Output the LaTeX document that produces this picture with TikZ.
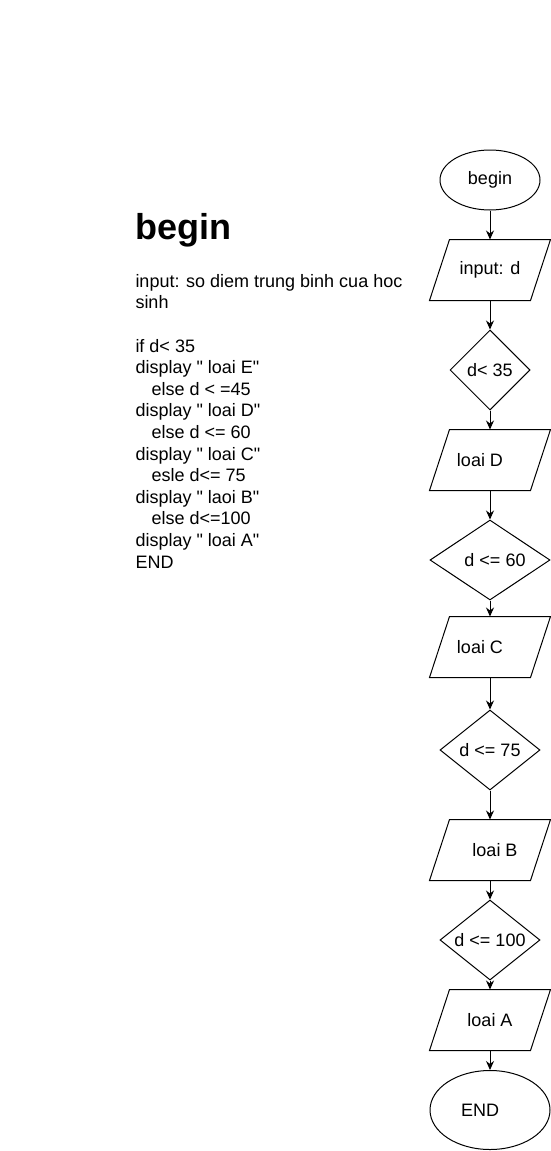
\documentclass[tikz,border=0pt]{standalone}
\usepackage{fontspec}
\setmainfont{Liberation Sans}[Ligatures=TeXOff]
\usetikzlibrary{shapes.geometric,arrows.meta}
\newcommand{\lbl}[2][0pt]{\makebox[0pt]{\hspace*{#1}\hspace*{#1}#2}}

\begin{document}
\begin{tikzpicture}[x=1pt,y=-1pt,line width=1pt,
    every node/.style={inner sep=0pt,font=\fontsize{18}{21.6}\selectfont},
    term/.style={draw,ellipse,minimum width=100pt,minimum height=60pt},
    io/.style={minimum width=120pt,minimum height=60pt,
        append after command={\pgfextra{\draw ([xshift=20pt]\tikzlastnode.north west)
            -- (\tikzlastnode.north east) -- ([xshift=-20pt]\tikzlastnode.south east)
            -- (\tikzlastnode.south west) -- cycle;}}},
    test/.style={draw,diamond,minimum width=#1,minimum height=80pt},
    test/.default=100pt]
        \useasboundingbox (0,0) rectangle (551,1151);

        % text on the left
        \node[anchor=base west,font=\bfseries\fontsize{36}{43.2}\selectfont] (title) at (135,239) {begin};
        \node[anchor=base west,align=left] (algo) at (135,568) {input: so diem trung binh cua hoc\\
            sinh\\[21.6pt]
            if d< 35\\
            display " loai E"\\
            \hspace*{16pt}else d < =45\\
            display " loai D"\\
            \hspace*{16pt}else d <= 60\\
            display " loai C"\\
            \hspace*{16pt}esle d<= 75\\
            display " laoi B"\\
            \hspace*{16pt}else d<=100\\
            display " loai A"\\
            END};

        % flow chart
        \node[term] (start) at (490,180) {\lbl{begin}};
        \node[io] (inp) at (490,270) {\lbl{input: d}};
        \node[test=80pt] (c35) at (490,370) {\lbl{d< 35}};
        \node[io] (lD) at (490,460) {\lbl[-10pt]{loai D}};
        \node[test=120pt] (c60) at (490,560) {\lbl[5pt]{d <= 60}};
        \node[io] (lC) at (490,647) {\lbl[-10pt]{loai C}};
        \node[test] (c75) at (490,750) {\lbl{d <= 75}};
        \node[io] (lB) at (490,850) {\lbl[5pt]{loai B}};
        \node[test] (c100) at (490,940) {\lbl{d <= 100}};
        \node[io] (lA) at (490,1020) {\lbl{loai A}};
        \node[term,minimum width=120pt,minimum height=79pt] (stop) at (490,1110) {\lbl[-10pt]{END}};

        \path[->,>={Stealth[length=9pt,width=8pt]}]
        (start) edge (inp)
        (inp) edge (c35)
        (c35) edge (lD)
        (lD) edge (c60)
        (c60) edge (lC)
        (lC) edge (c75)
        (c75) edge (lB)
        (lB) edge (c100)
        (c100) edge (lA)
        (lA) edge (stop);
\end{tikzpicture}
\end{document}
